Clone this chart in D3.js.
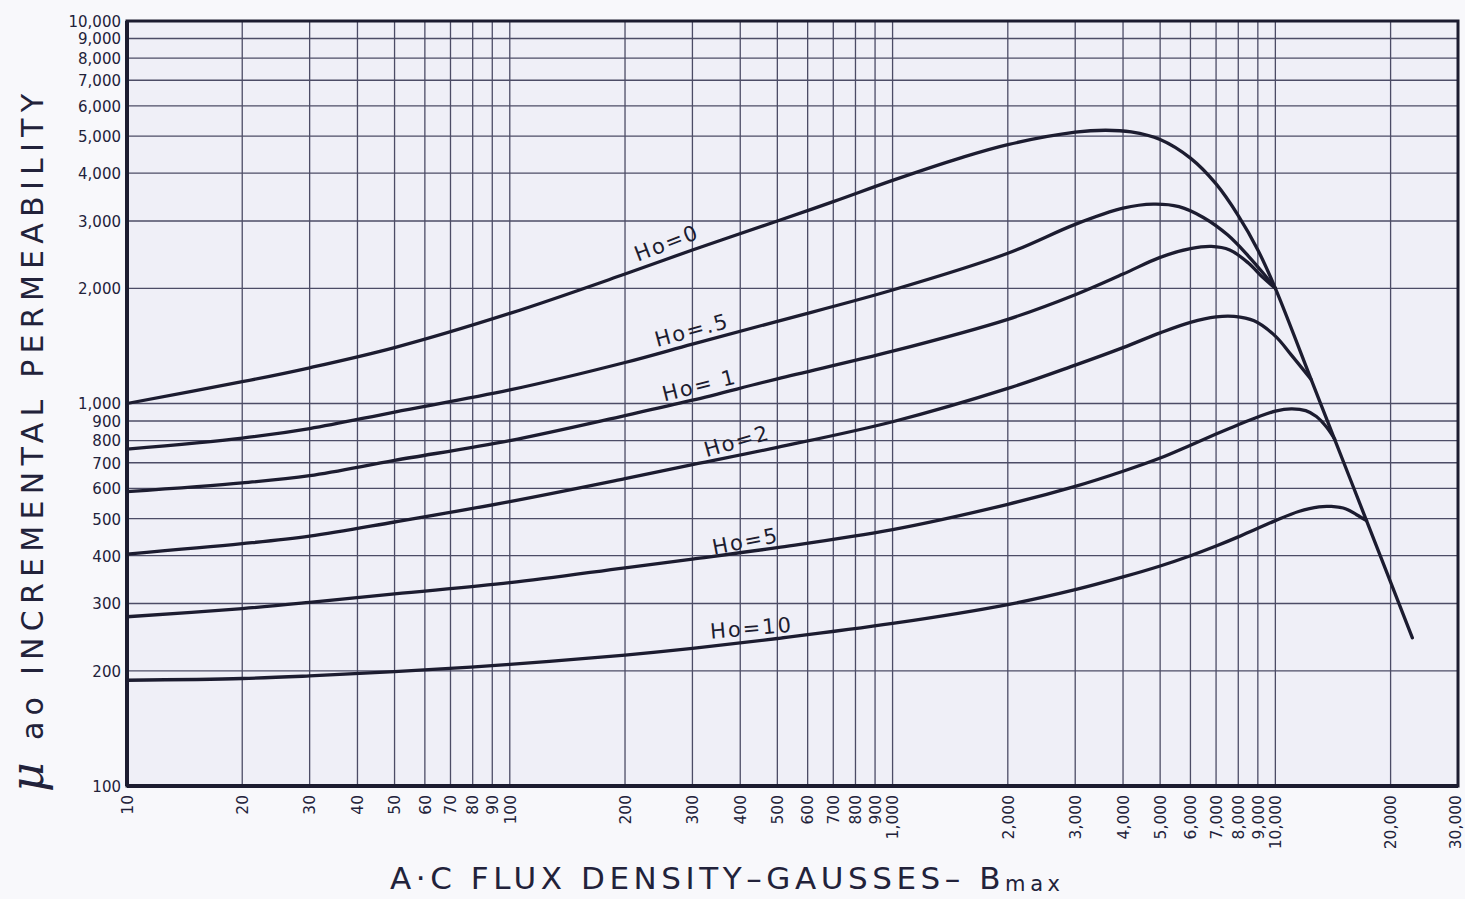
<!DOCTYPE html>
<html><head><meta charset="utf-8">
<script src="https://cdn.jsdelivr.net/npm/d3@7"></script>
<style>
html,body{margin:0;padding:0;background:#f8f8fb;}
svg{display:block;}
</style></head><body>
<svg id="chart" width="1465" height="899"></svg>
<script>
// ---- data ----
const xTicks = [10,20,30,40,50,60,70,80,90,100,200,300,400,500,600,700,800,900,1000,2000,3000,4000,5000,6000,7000,8000,9000,10000,20000,30000];
const yTicks = [100,200,300,400,500,600,700,800,900,1000,2000,3000,4000,5000,6000,7000,8000,9000,10000];

const ho0  = [[10,1000],[20,1140],[30,1240],[50,1400],[100,1720],[200,2180],[300,2520],[500,3000],[700,3370],[1000,3830],[1500,4380],[2000,4750],[3000,5120],[3600,5180],[4200,5130],[5000,4900],[6000,4380],[7000,3750],[8000,3100],[9000,2520],[10000,2000],[12400,1156],[14000,848],[17000,517],[20000,341],[22800,244]];
const ho05 = [[10,760],[20,812],[30,860],[50,950],[100,1085],[200,1280],[300,1430],[500,1640],[1000,1980],[2000,2470],[3000,2940],[4000,3240],[4800,3320],[5600,3270],[6500,3060],[7500,2760],[8500,2430],[9300,2190],[10000,2000]];
const ho1  = [[10,588],[20,620],[30,648],[50,710],[100,800],[200,930],[300,1020],[500,1160],[1000,1370],[2000,1660],[3000,1925],[4000,2180],[5000,2410],[6000,2540],[6800,2575],[7600,2520],[8500,2330],[9300,2130],[10000,2000]];
const ho2  = [[10,404],[20,430],[30,450],[50,490],[100,554],[200,636],[300,692],[500,768],[1000,896],[2000,1095],[3000,1260],[4000,1400],[5000,1530],[6000,1630],[7000,1685],[7800,1690],[8800,1645],[10000,1500],[11000,1340],[12400,1156]];
const ho5  = [[10,277],[20,291],[30,302],[50,318],[100,340],[200,372],[300,392],[500,420],[1000,468],[2000,545],[3000,607],[4000,665],[5000,720],[6000,778],[7000,832],[8000,880],[9000,922],[10000,955],[11000,968],[12000,958],[12800,925],[13600,868],[14300,806]];
const ho10 = [[10,189],[20,191],[30,194],[50,199],[100,208],[200,220],[300,229],[500,243],[1000,266],[2000,298],[3000,326],[4000,352],[5000,376],[6000,400],[7000,424],[8000,448],[9000,472],[10000,494],[11500,522],[13000,537],[14000,538],[15300,530],[16300,512],[17300,494]];

const seriesNames = ["Ho=0","Ho=.5","Ho= 1","Ho=2","Ho=5","Ho=10"];
const seriesData  = [ho0, ho05, ho1, ho2, ho5, ho10];
// label anchor in data units (Bmax, permeability) and text angle
const labelX = [257, 299, 313, 392, 413, 428];
const labelY = [2630, 1556, 1117, 798, 437, 259];
const labelAngle = [-21, -15, -14, -16, -11, -5];

// ---- layout ----
const W = 1465, H = 899;
const m = {left:127, top:21, right:7, bottom:113};
const svg = d3.select("#chart");
const x = d3.scaleLog().domain([10,30000]).range([m.left, W - m.right]);
const y = d3.scaleLog().domain([100,10000]).range([H - m.bottom, m.top]);
const ink = "#1c1c30", grid = "#4c4c66", txt = "#22223a";
const font = "'DejaVu Sans', Verdana, sans-serif";

// plot background
svg.append("rect").attr("x", x(10)).attr("y", y(10000))
  .attr("width", x(30000)-x(10)).attr("height", y(100)-y(10000))
  .attr("fill", "#efeff7");

// grid lines
const g = svg.append("g");
g.selectAll("line.vx").data(xTicks).join("line")
  .attr("x1", d=>x(d)).attr("x2", d=>x(d))
  .attr("y1", y(100)).attr("y2", y(10000))
  .attr("stroke", grid).attr("stroke-width", 1.3);
g.selectAll("line.hy").data(yTicks).join("line")
  .attr("y1", d=>y(d)).attr("y2", d=>y(d))
  .attr("x1", x(10)).attr("x2", x(30000))
  .attr("stroke", grid).attr("stroke-width", 1.3);

// axes (labels only)
const xAxis = svg.append("g").attr("transform", `translate(0,${y(100)+9})`)
  .call(d3.axisBottom(x).tickValues(xTicks).tickFormat(d3.format(",")).tickSize(0));
xAxis.select(".domain").remove();
xAxis.selectAll("text")
  .attr("transform", "rotate(-90)")
  .attr("text-anchor", "end")
  .attr("x", 0).attr("y", 0).attr("dy", "0.34em")
  .attr("fill", txt).style("font-family", font).style("font-size", "15.5px");
xAxis.selectAll(".tick").filter(d=>d===30000).attr("transform", `translate(${x(30000)-2},0)`);

const yAxis = svg.append("g").attr("transform", `translate(${x(10)-6},0)`)
  .call(d3.axisLeft(y).tickValues(yTicks).tickFormat(d3.format(",")).tickSize(0));
yAxis.select(".domain").remove();
yAxis.selectAll("text")
  .attr("x", 0).attr("dy", "0.36em")
  .attr("fill", txt).style("font-family", font).style("font-size", "15px");

// border
svg.append("rect").attr("x", x(10)).attr("y", y(10000))
  .attr("width", x(30000)-x(10)).attr("height", y(100)-y(10000))
  .attr("fill", "none").attr("stroke", ink).attr("stroke-width", 3);
svg.append("line").attr("x1", x(10)).attr("x2", x(10)).attr("y1", y(10000)).attr("y2", y(100))
  .attr("stroke", ink).attr("stroke-width", 4);
svg.append("line").attr("x1", x(10)).attr("x2", x(30000)).attr("y1", y(100)).attr("y2", y(100))
  .attr("stroke", ink).attr("stroke-width", 4);

// curves
const line = d3.line().x(d=>x(d[0])).y(d=>y(d[1])).curve(d3.curveCatmullRom.alpha(0.5));
svg.append("g").selectAll("path").data(seriesData).join("path")
  .attr("d", line).attr("fill", "none")
  .attr("stroke", ink).attr("stroke-width", 3.3)
  .attr("stroke-linecap", "round").attr("stroke-linejoin", "round");

// curve labels
svg.append("g").selectAll("text").data(seriesNames).join("text")
  .attr("transform", (d,i)=>`translate(${x(labelX[i])},${y(labelY[i])}) rotate(${labelAngle[i]})`)
  .attr("text-anchor", "middle").attr("dy", "0.35em")
  .attr("fill", ink).style("font-family", font).style("font-size", "21px")
  .style("letter-spacing", "2px")
  .text(d=>d);

// axis titles
const yt = svg.append("text")
  .attr("transform", `translate(43,792) rotate(-90)`)
  .attr("text-anchor", "start")
  .attr("fill", txt).style("font-family", font)
  .attr("textLength", 698).attr("lengthAdjust", "spacing");
yt.append("tspan").text("μ").style("font-size", "46px").style("font-style", "italic")
  .style("font-family", "'DejaVu Serif', serif");
yt.append("tspan").text(" ao ").style("font-size", "30px");
yt.append("tspan").text("INCREMENTAL PERMEABILITY").style("font-size", "30px");

const xt = svg.append("text")
  .attr("x", 390).attr("y", 889)
  .attr("fill", txt).style("font-family", font)
  .attr("textLength", 670).attr("lengthAdjust", "spacing");
xt.append("tspan").text("A·C FLUX DENSITY–GAUSSES– B").style("font-size", "31px");
xt.append("tspan").text("max").attr("dy", 2).style("font-size", "21px");
</script>
</body></html>
